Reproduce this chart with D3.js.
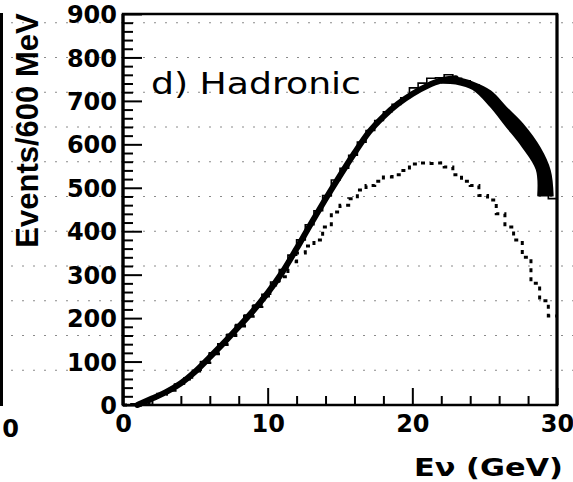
<!DOCTYPE html>
<html>
<head>
<meta charset="utf-8">
<script src="https://cdn.jsdelivr.net/npm/d3@7"></script>
<style>
  html, body { margin: 0; padding: 0; background: #fff; }
  svg { display: block; }
</style>
</head>
<body>
<svg id="chart" width="573" height="482"></svg>
<script>
// Energy binning: 600 MeV bins from 0 to 30 GeV
const binWidth = 0.6;

// Observed events per bin (solid histogram)
const dataCounts = [0, 0, 6, 16, 26, 35, 48, 62, 80, 100,
                    120, 141, 163, 185, 207, 230, 255, 283, 312, 345,
                    380, 415, 447, 482, 518, 545, 575, 605, 632, 655,
                    675, 692, 707, 730, 741, 752, 753, 760, 752, 746,
                    737, 722, 703, 682, 658, 632, 603, 568, 525, 475];

// Reference spectrum per bin (dotted histogram)
const refCounts = [0, 1, 6, 15, 25, 34, 46, 60, 78, 98,
                   118, 139, 160, 182, 204, 227, 251, 276, 295, 330,
                   350, 366, 380, 410, 444, 460, 475, 495, 505, 515,
                   525, 530, 540, 555, 557, 556, 557, 548, 530, 515,
                   505, 482, 472, 440, 410, 380, 340, 280, 240, 205];

// Predicted spectrum (thick curve)
const fitE = [1.0, 2, 3, 4, 5, 6, 7, 8, 9, 10, 11, 12, 13, 14, 15, 16, 17, 18, 19, 20, 21, 22, 23];
const fitN = [0, 15, 30, 50, 77, 110, 144, 180, 217, 258, 305, 360, 418, 474, 528, 580, 628, 664, 693, 716, 734, 747, 752];

// Prediction uncertainty band at high energy
const bandUpperE = [22.0, 23.0, 24.2, 25.4, 26.5, 27.6, 28.8, 29.5, 29.7];
const bandUpper  = [752, 753, 742, 722, 684, 647, 592, 540, 482];
const bandLowerE = [22.0, 23.0, 24.2, 25.4, 26.5, 27.6, 28.6, 28.7];
const bandLower  = [742, 740, 727, 688, 642, 596, 542, 482];

const xTicks = [0, 10, 20, 30];
const yTicks = [0, 100, 200, 300, 400, 500, 600, 700, 800, 900];
const xMinorTicks = [2, 4, 6, 8, 12, 14, 16, 18, 22, 24, 26, 28];
const yMinorTicks = d3.range(20, 900, 20).filter(v => v % 100 !== 0);

const panelLabel = "d) Hadronic";
const xTitle = "E\u03bd (GeV)";
const yTitle = "Events/600 MeV";

const svg = d3.select("#chart");
const W = 573, H = 482;
const x = d3.scaleLinear().domain([0, 30]).range([123, 557]);
const y = d3.scaleLinear().domain([0, 900]).range([405, 14]);
const [x0, x1] = x.range();
const [yb, yt] = y.range();

svg.append("rect").attr("width", W).attr("height", H).attr("fill", "#fff");

// faint graph-paper rows behind everything
const paper = svg.append("g").attr("stroke", "#8a8a8a").attr("stroke-width", 1)
  .attr("stroke-dasharray", "2,9");
for (let k = 1; k <= 11; k++) {
  const yy = yb - k * 34.75;
  paper.append("line").attr("x1", 0).attr("x2", W).attr("y1", yy).attr("y2", yy);
}

// edge of the neighbouring panel
svg.append("line").attr("x1", 1.5).attr("x2", 1.5).attr("y1", yt - 1).attr("y2", yb + 1)
  .attr("stroke", "#000").attr("stroke-width", 3);
svg.append("text").attr("x", 19).attr("y", 437).attr("text-anchor", "end")
  .attr("font-family", "DejaVu Sans, sans-serif").attr("font-weight", "bold")
  .attr("font-size", 24).text("0");

// histograms
const edges = dataCounts.map((_, i) => i * binWidth);
const stepLine = d3.line().x(d => x(d[0])).y(d => y(d[1])).curve(d3.curveStepAfter);

const refPts = refCounts.map((v, i) => [edges[i], v]);
refPts.push([30, refCounts[refCounts.length - 1]]);
svg.append("path").attr("d", stepLine(refPts))
  .attr("fill", "none").attr("stroke", "#000").attr("stroke-width", 3)
  .attr("stroke-dasharray", "4,5");

// prediction curve and band
const smooth = d3.line().x(d => x(d[0])).y(d => y(d[1])).curve(d3.curveMonotoneX);
svg.append("path").attr("d", smooth(d3.zip(fitE, fitN)))
  .attr("fill", "none").attr("stroke", "#000").attr("stroke-width", 6)
  .attr("stroke-linecap", "round");

const edgeLine = d3.line().x(d => x(d[0])).y(d => y(d[1])).curve(d3.curveCatmullRom);
const up = edgeLine(d3.zip(bandUpperE, bandUpper));
const lo = edgeLine(d3.zip(bandLowerE, bandLower).reverse());
svg.append("path").attr("d", up + "L" + lo.slice(1) + "Z")
  .attr("fill", "#000").attr("stroke", "#000").attr("stroke-width", 2)
  .attr("stroke-linejoin", "round");

const dataPts = dataCounts.map((v, i) => [edges[i], v]);
dataPts.push([30, dataCounts[dataCounts.length - 1]]);
svg.append("path").attr("d", stepLine(dataPts))
  .attr("fill", "none").attr("stroke", "#000").attr("stroke-width", 1.6);

// axes with inward ticks
const fontTicks = "DejaVu Sans, sans-serif";
function styleAxis(g) {
  g.select(".domain").remove();
  g.selectAll(".tick line").attr("stroke", "#000").attr("stroke-width", 2);
  g.selectAll(".tick text").attr("fill", "#000").attr("font-family", fontTicks)
    .attr("font-weight", "bold").attr("font-size", 24);
}

svg.append("g").attr("transform", `translate(${x0},0)`)
  .call(d3.axisLeft(y).tickValues(yMinorTicks).tickSize(-10).tickFormat(""))
  .call(styleAxis);
svg.append("g").attr("transform", `translate(${x0},0)`)
  .call(d3.axisLeft(y).tickValues(yTicks).tickSize(-19).tickPadding(6).tickFormat(d3.format("d")))
  .call(styleAxis)
  .call(g => g.selectAll(".tick text").attr("dy", "0.36em"));

svg.append("g").attr("transform", `translate(0,${yb})`)
  .call(d3.axisBottom(x).tickValues(xMinorTicks).tickSize(-9).tickFormat(""))
  .call(styleAxis);
svg.append("g").attr("transform", `translate(0,${yb})`)
  .call(d3.axisBottom(x).tickValues(xTicks).tickSize(-17).tickPadding(10).tickFormat(d3.format("d")))
  .call(styleAxis);

// frame
svg.append("rect").attr("x", x0).attr("y", yt).attr("width", x1 - x0).attr("height", yb - yt)
  .attr("fill", "none").attr("stroke", "#000").attr("stroke-width", 2.5);
svg.append("line").attr("x1", x0).attr("x2", x0).attr("y1", yt).attr("y2", yb)
  .attr("stroke", "#000").attr("stroke-width", 3.2);
svg.append("line").attr("x1", x1).attr("x2", x1).attr("y1", yt).attr("y2", yb)
  .attr("stroke", "#000").attr("stroke-width", 3);

// labels
svg.append("text").attr("x", 151).attr("y", 93.5)
  .attr("font-family", "DejaVu Sans, sans-serif").attr("font-size", 30)
  .attr("textLength", 210).attr("lengthAdjust", "spacingAndGlyphs")
  .text(panelLabel);

svg.append("text").attr("x", 414).attr("y", 476)
  .attr("font-family", "DejaVu Sans, sans-serif").attr("font-weight", "bold")
  .attr("font-size", 24).attr("textLength", 149).attr("lengthAdjust", "spacingAndGlyphs")
  .text(xTitle);

svg.append("text").attr("transform", "translate(37.5,130.5) rotate(-90)")
  .attr("text-anchor", "middle")
  .attr("font-family", "Liberation Sans, Arial, sans-serif").attr("font-weight", "bold")
  .attr("font-size", 31).text(yTitle);
</script>
</body>
</html>
